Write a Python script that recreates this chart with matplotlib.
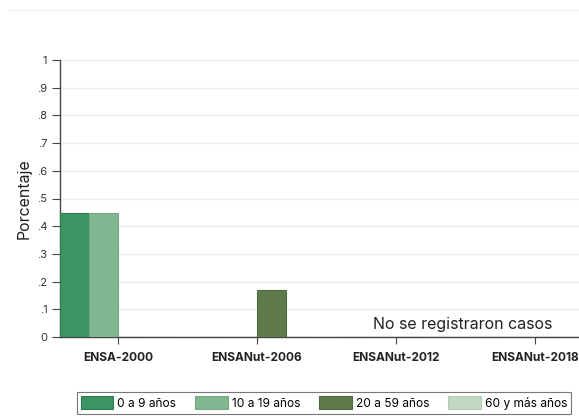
import numpy as np
import matplotlib
matplotlib.use("Agg")
import matplotlib.pyplot as plt
from matplotlib.lines import Line2D

plt.rcParams['font.family'] = ['Inter', 'DejaVu Sans']

# data
encuestas = ["ENSA-2000", "ENSANut-2006", "ENSANut-2012", "ENSANut-2018"]
grupos = ["0 a 9 años", "10 a 19 años", "20 a 59 años", "60 y más años"]
valores = [
    [0.447, 0.0, 0.0, 0.0],   # 0 a 9
    [0.447, 0.0, 0.0, 0.0],   # 10 a 19
    [0.0, 0.17, 0.0, 0.0],    # 20 a 59
    [0.0, 0.0, 0.0, 0.0],     # 60 y mas
]
colores = ["#3a9464", "#82b690", "#5e7a4c", "#c1d9c3"]
bordes = ["#2c7c50", "#74a883", "#4f6a3f", "#b2ccb4"]
yticks = [0, .1, .2, .3, .4, .5, .6, .7, .8, .9, 1]
ylabels = ["0", ".1", ".2", ".3", ".4", ".5", ".6", ".7", ".8", ".9", "1"]

W, H = 579, 417
fig = plt.figure(figsize=(W / 100, H / 100), dpi=100)
fig.patch.set_facecolor("white")

w = 29 / 139
x = np.arange(len(encuestas))
left_px, right_px = 60, 60 + (4 * w + 3) * 139
ax = fig.add_axes([left_px / W, (H - 337) / H, (right_px - left_px) / W, 277 / H])

for i, (g, vals) in enumerate(zip(grupos, valores)):
    pos = x + (i - 1.5) * w
    ax.bar(pos, vals, width=w, color=colores[i], edgecolor=bordes[i],
           linewidth=0.8, label=g, zorder=3)

ax.set_xlim(-2 * w, 3 + 2 * w)
ax.set_ylim(0, 1)
ax.set_yticks(yticks)
ax.set_yticklabels(ylabels, fontsize=8, color="#333333")
ax.set_xticks(x)
ax.set_xticklabels(encuestas, fontsize=8.6, fontweight="bold", color="#222222")
ax.tick_params(axis="both", direction="out", length=6, width=0.8, color="#444444", pad=3)
ax.tick_params(axis="x", length=5, pad=6)
ax.grid(axis="y", color="#e5eeee", linewidth=1, zorder=0)
for s in ["top", "right"]:
    ax.spines[s].set_visible(False)
for s in ["left", "bottom"]:
    ax.spines[s].set_color("#444444")
    ax.spines[s].set_linewidth(1)
ax.set_ylabel("Porcentaje", fontsize=11.5, color="#222222", labelpad=4)

ax.text(2.48, 0.045, "No se registraron casos", fontsize=11.5, color="#222222",
        ha="center", va="center", zorder=4)

handles, labels = ax.get_legend_handles_labels()
leg = fig.legend(handles, labels, loc="center", ncol=4,
                 bbox_to_anchor=(324 / W, 1 - 403 / H), fontsize=8.6,
                 frameon=True, fancybox=False, edgecolor="#555555",
                 handlelength=2.7, handleheight=1.2, handletextpad=0.35,
                 columnspacing=1.6, borderpad=0.35)
leg.get_frame().set_linewidth(0.8)

fig.add_artist(Line2D([8 / W, 1], [1 - 10 / H, 1 - 10 / H], color="#eef3f3",
                      linewidth=1, transform=fig.transFigure))

fig.savefig("out.png", dpi=100)
